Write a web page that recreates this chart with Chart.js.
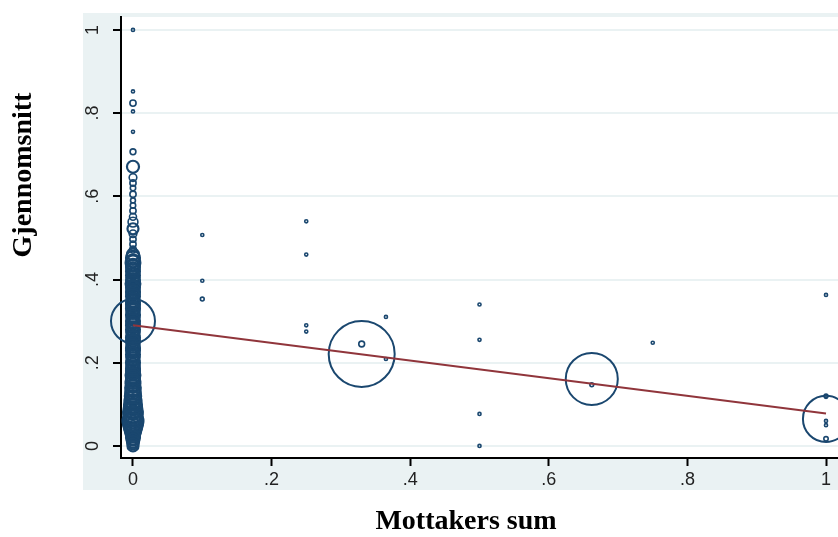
<!DOCTYPE html>
<html>
<head>
<meta charset="utf-8">
<script src="https://cdn.jsdelivr.net/npm/chart.js@4.4.1/dist/chart.umd.min.js"></script>
<style>
  html, body { margin: 0; padding: 0; background: #ffffff; }
  #wrap { width: 838px; height: 537px; position: relative; }
</style>
</head>
<body>
<div id="wrap"><canvas id="scatter-chart"></canvas></div>
<script>
// Observations at Mottakers sum = 0 (y value and frequency weight)
const zeroY = [1.0, 0.852, 0.824, 0.804, 0.755, 0.707, 0.671, 0.645, 0.632, 0.62, 0.605, 0.59,
  0.578, 0.565, 0.551, 0.538, 0.522, 0.51, 0.497, 0.485, 0.472, 0.46, 0.452, 0.445, 0.44, 0.435,
  0.43, 0.425, 0.42, 0.415, 0.41, 0.405, 0.4, 0.395, 0.39, 0.385, 0.38, 0.375, 0.37, 0.365, 0.36,
  0.355, 0.35, 0.345, 0.34, 0.335, 0.33, 0.325, 0.32, 0.315, 0.31, 0.305, 0.3, 0.295, 0.29, 0.285,
  0.28, 0.275, 0.27, 0.265, 0.26, 0.255, 0.25, 0.245, 0.24, 0.235, 0.23, 0.225, 0.22, 0.215, 0.21,
  0.205, 0.2, 0.195, 0.19, 0.185, 0.18, 0.175, 0.17, 0.165, 0.16, 0.155, 0.15, 0.145, 0.14, 0.135,
  0.13, 0.125, 0.12, 0.115, 0.11, 0.105, 0.1, 0.095, 0.09, 0.085, 0.08, 0.075, 0.07, 0.065, 0.06,
  0.055, 0.05, 0.045, 0.04, 0.035, 0.03, 0.025, 0.02, 0.015, 0.01, 0.005, 0.0, 0.3];
const zeroW = [2, 2, 8, 2, 2, 7, 30, 12, 8, 6, 8, 5,
  6, 8, 10, 20, 25, 12, 8, 8, 10, 30, 40, 35, 45, 30,
  40, 35, 40, 30, 40, 35, 35, 40, 45, 35, 40, 30, 40, 35, 40,
  30, 35, 40, 40, 30, 40, 35, 30, 40, 35, 30, 40, 35, 40, 30,
  40, 35, 35, 30, 40, 35, 40, 30, 35, 40, 40, 30, 40, 35, 35,
  30, 40, 35, 35, 40, 40, 35, 45, 40, 40, 45, 45, 40, 50, 45,
  45, 50, 55, 50, 60, 55, 65, 60, 70, 65, 80, 70, 70, 75, 90,
  80, 75, 65, 60, 50, 45, 40, 40, 30, 30, 25, 25, 400];

// Observations at Mottakers sum > 0
const otherX = [0.1, 0.1, 0.1, 0.25, 0.25, 0.25, 0.25, 0.33, 0.33, 0.365, 0.365,
  0.5, 0.5, 0.5, 0.5, 0.662, 0.662, 0.75, 1, 1, 1, 1, 1, 1, 1];
const otherY = [0.507, 0.397, 0.353, 0.54, 0.46, 0.29, 0.275, 0.221, 0.245, 0.31, 0.209,
  0.34, 0.255, 0.077, 0.0, 0.161, 0.147, 0.248, 0.363, 0.065, 0.12, 0.06, 0.05, 0.017, 0.118];
const otherW = [2, 2, 3, 2, 2, 2, 2, 900, 7, 2, 2,
  2, 2, 2, 2, 560, 3, 2, 2, 440, 3, 2, 2, 4, 2];

// Fitted values (linear fit) at the ends of the x range
const fitX = [0, 1];
const fitY = [0.29, 0.078];

const xTicks = [0, 0.2, 0.4, 0.6, 0.8, 1];
const yTicks = [0, 0.2, 0.4, 0.6, 0.8, 1];

const xTitle = 'Mottakers sum';
const yTitle = 'Gjennomsnitt';

const stataLabel = (v) => {
  if (v === 0) return '0';
  if (v === 1) return '1';
  return '.' + Math.round(v * 10);
};

const points = zeroY.map((y, i) => ({ x: 0, y, w: zeroW[i] }))
  .concat(otherX.map((x, i) => ({ x, y: otherY[i], w: otherW[i] })));
const fitPoints = fitX.map((x, i) => ({ x, y: fitY[i] }));

// no auto padding from tick label overhang
const noPadding = (axis) => {
  axis.paddingLeft = 0;
  axis.paddingRight = 0;
  axis.paddingTop = 0;
  axis.paddingBottom = 0;
};

const panelPlugin = {
  id: 'panel',
  beforeDraw(chart) {
    const { ctx, chartArea } = chart;
    ctx.save();
    ctx.fillStyle = '#ffffff';
    ctx.fillRect(0, 0, chart.width, chart.height);
    ctx.fillStyle = '#eaf2f3';
    ctx.fillRect(83, 13, chart.width - 83, 477);
    ctx.fillStyle = '#ffffff';
    ctx.fillRect(chartArea.left, chartArea.top, chartArea.right - chartArea.left, chartArea.bottom - chartArea.top);
    ctx.restore();
  },
  afterDraw(chart) {
    const { ctx } = chart;
    ctx.save();
    ctx.fillStyle = '#000000';
    ctx.font = "bold 28px 'Liberation Serif', 'Times New Roman', serif";
    ctx.textAlign = 'center';
    ctx.textBaseline = 'middle';
    ctx.fillText(xTitle, 466, 522);
    ctx.translate(24, 175);
    ctx.rotate(-Math.PI / 2);
    ctx.fillText(yTitle, 0, 0);
    ctx.restore();
  }
};

const ctx = document.getElementById('scatter-chart').getContext('2d');
new Chart(ctx, {
  type: 'scatter',
  data: {
    datasets: [
      {
        type: 'line',
        label: 'Fitted values',
        data: fitPoints,
        borderColor: '#90353b',
        borderWidth: 2,
        pointRadius: 0,
        fill: false,
        tension: 0
      },
      {
        label: 'Gjennomsnitt',
        data: points,
        borderColor: '#1a476f',
        backgroundColor: 'rgba(0,0,0,0)',
        borderWidth: (c) => (c.raw && c.raw.w > 200 ? 2 : (c.raw && c.raw.w > 20 ? 2.2 : 1.6)),
        pointRadius: (c) => 1.1 * Math.sqrt(c.raw ? c.raw.w : 1),
        pointHoverRadius: (c) => 1.1 * Math.sqrt(c.raw ? c.raw.w : 1),
        clip: false
      }
    ]
  },
  options: {
    responsive: true,
    maintainAspectRatio: false,
    animation: false,
    layout: { autoPadding: false, padding: { left: 83, top: 17, right: 0, bottom: 47 } },
    plugins: {
      legend: { display: false },
      tooltip: { enabled: false }
    },
    scales: {
      x: {
        type: 'linear',
        min: -0.0173,
        max: 1.0173,
        afterBuildTicks: (axis) => { axis.ticks = xTicks.map(v => ({ value: v })); },
        afterFit: (axis) => { axis.height = 32; noPadding(axis); },
        border: { display: true, color: '#000000', width: 2 },
        grid: {
          drawOnChartArea: false,
          drawTicks: true,
          tickLength: 8,
          tickColor: '#000000',
          tickWidth: 2
        },
        ticks: {
          padding: 3,
          color: '#222222',
          font: { family: "'Liberation Sans', Arial, sans-serif", size: 18 },
          maxRotation: 0,
          callback: (v) => stataLabel(v)
        }
      },
      y: {
        type: 'linear',
        min: -0.029,
        max: 1.031,
        afterBuildTicks: (axis) => { axis.ticks = yTicks.map(v => ({ value: v })); },
        afterFit: (axis) => { axis.width = 38; noPadding(axis); },
        border: { display: true, color: '#000000', width: 2 },
        grid: {
          color: '#eaf2f3',
          lineWidth: 2,
          drawTicks: true,
          tickLength: 8,
          tickColor: '#000000',
          tickWidth: 2
        },
        ticks: {
          padding: 12,
          color: '#222222',
          crossAlign: 'center',
          minRotation: 90,
          maxRotation: 90,
          font: { family: "'Liberation Sans', Arial, sans-serif", size: 18 },
          callback: (v) => stataLabel(v)
        }
      }
    }
  },
  plugins: [panelPlugin]
});
</script>
</body>
</html>
